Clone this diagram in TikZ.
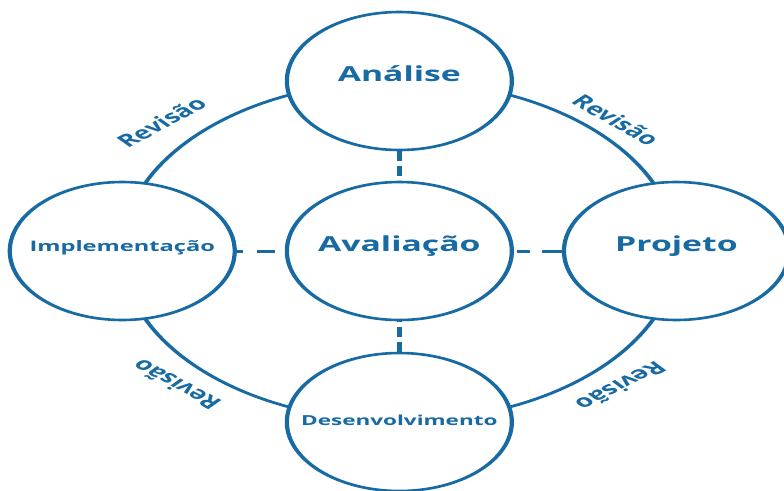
\documentclass[tikz,border=0pt]{standalone}
\usepackage{fontspec}
\setmainfont{Open Sans}
\definecolor{cyclo}{RGB}{24,106,162}
\begin{document}
\begin{tikzpicture}[x=1pt,y=-1pt,
  stage/.style={circle, draw=cyclo, fill=white, line width=2.6pt,
    minimum size=138pt, inner sep=0pt, text=cyclo,
    text height=0.5em, text depth=0.5em},
  bigtxt/.style={font=\bfseries\fontsize{20.7}{23}\selectfont},
  ring/.style={draw=cyclo, line width=2.6pt},
  link/.style={draw=cyclo, line width=3pt},
  revlabel/.style={text=cyclo, inner sep=0pt,
    font=\bfseries\fontsize{17.2}{19}\selectfont}
]
\useasboundingbox (0,0) rectangle (784,490);
% the cycle is laid out on round shapes, then widened horizontally
\begin{scope}[transform canvas={xscale=1.63}]
  \coordinate (hub) at (245,251);
  \draw[ring] (hub) circle[radius=170];

  \node[stage, bigtxt] (ana) at (245,81) {Análise};
  \node[stage, bigtxt] (ava) at (245,251) {Avaliação};
  \node[stage, bigtxt] (pro) at (415,251) {Projeto};
  \node[stage, font=\bfseries\fontsize{14.5}{16}\selectfont] (imp) at (75,251) {Implementação};
  \node[stage, font=\bfseries\fontsize{13.8}{16}\selectfont,
        text height=0.8em, text depth=0.2em] (des) at (245,422) {Desenvolvimento};

  % dashed ties between the centre and each stage
  \draw[link, dash pattern=on 10pt off 5pt] (ana.south) -- (ava.north);
  \draw[link, dash pattern=on 10pt off 5pt] (des.north) -- (ava.south);
  \draw[link, dash pattern=on 4pt off 8.5pt on 11pt off 7pt] (imp.east) -- (ava.west);
  \draw[link, dash pattern=on 12pt off 7.4pt on 8pt off 6pt] (pro.west) -- (ava.east);

  % review labels around the ring
  \node[revlabel, rotate=41]    (revtl) at (99,122)  {Revisão};
  \node[revlabel, rotate=-43]   (revtr) at (378,120) {Revisão};
  \node[revlabel, rotate=139]   (revbl) at (108,385) {Revisão};
  \node[revlabel, rotate=-140.5] (revbr) at (381,386) {Revisão};
\end{scope}
\end{tikzpicture}
\end{document}
